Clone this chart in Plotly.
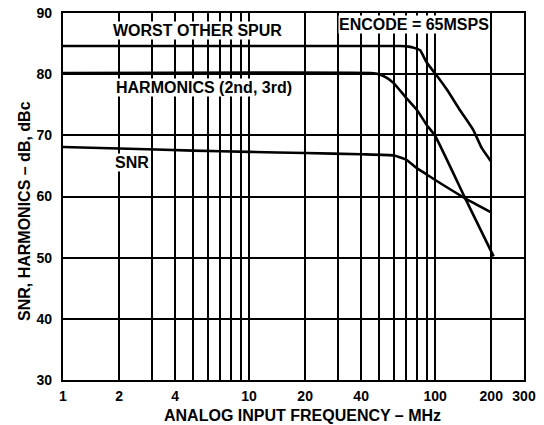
import plotly.graph_objects as go

# Data
worst_f = [1, 65, 72, 77, 83, 90, 100, 116, 136, 160, 178, 200]
worst_v = [84.6, 84.6, 84.5, 84.3, 83.9, 81.9, 80.1, 77.4, 74.1, 70.9, 67.9, 65.7]

harm_f = [1, 45, 50, 55, 60, 70, 80, 90, 100, 145, 206]
harm_v = [80.2, 80.2, 80.0, 79.4, 78.5, 76.1, 74.1, 71.7, 69.9, 59.7, 50.2]

snr_f = [1, 2, 5, 10, 20, 40, 60, 70, 80, 90, 100, 145, 200]
snr_v = [68.1, 67.85, 67.5, 67.3, 67.1, 66.9, 66.7, 66.0, 64.6, 63.6, 62.7, 59.7, 57.4]

x_grid = [1, 2, 3, 4, 5, 6, 7, 8, 9, 10, 20, 30, 40, 50, 60, 70, 80, 90, 100, 200, 300]
x_text = ["1", "2", "", "4", "", "", "", "", "", "10", "20", "", "40", "", "", "", "", "", "100", "200", "300"]
y_ticks = [30, 40, 50, 60, 70, 80, 90]

FONT = "Liberation Sans, Arial, sans-serif"

fig = go.Figure()
for f, v in [(worst_f, worst_v), (harm_f, harm_v), (snr_f, snr_v)]:
    fig.add_trace(go.Scatter(x=f, y=v, mode="lines",
                             line=dict(color="black", width=2.6, shape="spline", smoothing=0.4),
                             showlegend=False, hoverinfo="skip"))

ann_font = dict(family=FONT, size=16, color="black", weight="bold")
labels = [
    ("WORST OTHER SPUR", 0.263, 87.2),
    ("HARMONICS (2nd, 3rd)", 0.28, 77.9),
    ("SNR", 0.274, 65.5),
    ("ENCODE = 65MSPS", 1.478, 88.1),
]
for t, lx, ly in labels:
    fig.add_annotation(x=lx, y=ly, xref="x", yref="y", text=t, showarrow=False,
                       xanchor="left", yanchor="middle", font=ann_font,
                       bgcolor="white", borderpad=0)

title_font = dict(family=FONT, size=16, color="black", weight="bold")
fig.add_annotation(x=-0.0824, y=0.4605, xref="paper", yref="paper",
                   text="SNR, HARMONICS – dB, dBc", textangle=-90, showarrow=False,
                   xanchor="center", yanchor="middle", font=title_font)
fig.add_annotation(x=0.5206, y=-0.0954, xref="paper", yref="paper",
                   text="ANALOG INPUT FREQUENCY – MHz", showarrow=False,
                   xanchor="center", yanchor="middle", font=title_font)

fig.update_layout(
    width=544, height=425,
    margin=dict(l=63, r=20, t=13, b=45, autoexpand=False),
    paper_bgcolor="white", plot_bgcolor="white",
    font=dict(family=FONT, color="black"),
)
fig.update_xaxes(
    type="log", range=[0, 2.47712], tickvals=x_grid, ticktext=x_text,
    showgrid=True, gridcolor="black", gridwidth=1.5,
    showline=True, linecolor="black", linewidth=2.4, mirror=True,
    ticks="", ticklabelstandoff=2, automargin=False,
    tickfont=dict(family=FONT, size=14, color="black", weight="bold"),
    zeroline=False,
)
fig.update_yaxes(
    range=[30, 90], tickvals=y_ticks,
    showgrid=True, gridcolor="black", gridwidth=1.5,
    showline=True, linecolor="black", linewidth=2.4, mirror=True,
    ticks="", ticklabelstandoff=6, automargin=False,
    tickfont=dict(family=FONT, size=14, color="black", weight="bold"),
    zeroline=False,
)

fig.write_html("out.html", config={"displayModeBar": False},
               post_script="document.body.style.margin='0';")
